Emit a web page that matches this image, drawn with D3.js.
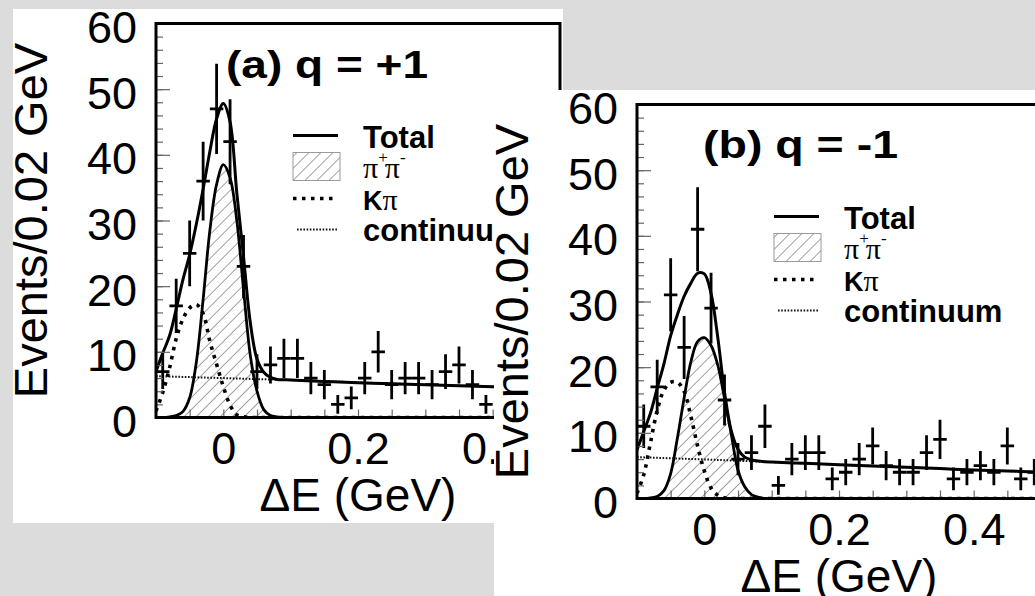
<!DOCTYPE html>
<html>
<head>
<meta charset="utf-8">
<script src="https://cdn.jsdelivr.net/npm/d3@7"></script>
<style>
  html, body { margin: 0; padding: 0; background: #dcdcdc; }
  svg { display: block; }
  text { font-family: "Liberation Sans", Arial, Helvetica, sans-serif; fill: #000; }
  .serif { font-family: "Liberation Serif", "DejaVu Serif", serif; font-weight: normal; }
</style>
</head>
<body>
<svg id="chart" width="1035" height="596"></svg>
<script>
// Bin centres (0.02 GeV bins) and event counts
const binsA = [-0.09, -0.07, -0.05, -0.03, -0.01, 0.01, 0.03, 0.05, 0.07, 0.09, 0.11, 0.13, 0.15,
  0.17, 0.19, 0.21, 0.23, 0.25, 0.27, 0.29, 0.31, 0.33, 0.35, 0.37, 0.39];
const eventsA = [7, 17, 25, 36, 47, 42, 23, 7, 8, 9, 9, 6, 5, 2, 3, 6, 10, 5, 6, 6, 5, 7, 8, 5, 2];

const binsB = [-0.09, -0.07, -0.05, -0.03, -0.01, 0.01, 0.03, 0.05, 0.07, 0.09, 0.11, 0.13, 0.15,
  0.17, 0.19, 0.21, 0.23, 0.25, 0.27, 0.29, 0.31, 0.33, 0.35, 0.37, 0.39, 0.41, 0.43, 0.45, 0.47, 0.49];
const eventsB = [11, 17, 31, 23, 41, 29, 15, 6, 7, 11, 2, 6, 7, 7, 3, 4, 6, 8, 5, 4, 4, 7, 9, 3, 4,
  5, 4, 8, 3, 4];

// Fit curves at these ΔE values
const curveX = [-0.1, -0.09, -0.08, -0.07, -0.06, -0.05, -0.04, -0.03, -0.02, -0.01, 0, 0.01, 0.02,
  0.03, 0.04, 0.05, 0.06, 0.07, 0.08, 0.09, 0.1, 0.15, 0.2, 0.25, 0.3, 0.35, 0.4, 0.45, 0.5];

const totalA = [7.0, 9.8, 12.4, 16.5, 21.0, 24.8, 29.5, 34.8, 40.5, 45.5, 47.8, 45.0, 34.2, 24.5,
  14.5, 8.9, 6.9, 6.1, 5.8, 5.75, 5.7, 5.5, 5.3, 5.15, 5.0, 4.85, 4.7, 4.55, 4.4];
const pipiA = [0, 0, 0.1, 0.3, 0.9, 3.0, 8.5, 18.0, 28.5, 35.5, 38.5, 36.5, 30.0, 19.5, 9.5, 4.0,
  1.2, 0.3, 0.1, 0, 0, 0, 0, 0, 0, 0, 0, 0, 0];
const kpiA = [1.0, 3.8, 7.5, 12.0, 15.0, 16.7, 17.2, 15.8, 11.6, 8.1, 4.7, 1.9, 0.4, 0.1, 0, 0, 0,
  0, 0, 0, 0, 0, 0, 0, 0, 0, 0, 0, 0];

const totalB = [7.4, 10.2, 13.0, 16.8, 20.5, 24.8, 28.0, 30.8, 32.8, 34.3, 34.2, 31.2, 24.5, 16.2,
  10.3, 7.5, 6.3, 5.9, 5.7, 5.6, 5.55, 5.35, 5.15, 4.95, 4.75, 4.55, 4.35, 4.2, 4.0];
const pipiB = [0, 0, 0.1, 0.3, 1.2, 3.8, 9.2, 15.3, 20.8, 23.9, 24.5, 23.3, 20.3, 15.2, 9.8, 4.3,
  1.8, 0.6, 0.2, 0, 0, 0, 0, 0, 0, 0, 0, 0, 0];
const kpiB = [0.8, 3.6, 8.5, 13.4, 16.5, 17.7, 17.7, 16.3, 12.5, 8.0, 4.2, 1.6, 0.5, 0.1, 0, 0, 0,
  0, 0, 0, 0, 0, 0, 0, 0, 0, 0, 0, 0];

// Continuum (nearly straight line)
const contX = [-0.1, 0, 0.1, 0.2, 0.3, 0.4, 0.5];
const contA = [6.3, 6.0, 5.7, 5.35, 5.0, 4.7, 4.4];
const contB = [6.3, 5.95, 5.55, 5.15, 4.75, 4.35, 4.0];

// Axes
const yTicks = [0, 10, 20, 30, 40, 50, 60];
const xTicks = [0, 0.2, 0.4];
const xDomain = [-0.1, 0.5];
const yDomain = [0, 60];

// Page layout (pixels)
const layout = {
  panelWidth: 550, panelHeight: 514,
  marginLeft: 143, marginTop: 14.5,
  width: 404, height: 394,
};

const panels = [
  { id: 'a', title: '(a) q = +1', offset: [13, 9], titlePos: [70, 54, 202],
    bins: binsA, events: eventsA, total: totalA, pipi: pipiA, kpi: kpiA, cont: contA },
  { id: 'b', title: '(b) q = -1', offset: [494, 90], titlePos: [66, 53, 195],
    bins: binsB, events: eventsB, total: totalB, pipi: pipiB, kpi: kpiB, cont: contB },
];

const svg = d3.select('#chart');
const defs = svg.append('defs');

// Hatch pattern for π+π-
const hatch = defs.append('pattern')
  .attr('id', 'hatch')
  .attr('patternUnits', 'userSpaceOnUse')
  .attr('width', 8.5)
  .attr('height', 8.5)
  .attr('patternTransform', 'rotate(45)');
hatch.append('line')
  .attr('x1', 0).attr('y1', 0).attr('x2', 0).attr('y2', 8.5)
  .attr('stroke', '#555').attr('stroke-width', 1.1);

const x = d3.scaleLinear().domain(xDomain).range([0, layout.width]);
const y = d3.scaleLinear().domain(yDomain).range([layout.height, 0]);

const styles = {
  total: { stroke: '#000', 'stroke-width': 3 },
  pipi: { stroke: '#000', 'stroke-width': 2.8 },
  kpi: { stroke: '#000', 'stroke-width': 3.6, 'stroke-dasharray': '3.5,5.5' },
  cont: { stroke: '#111', 'stroke-width': 2, 'stroke-dasharray': '1.6,1.6' },
};

function applyStyle(sel, st) {
  Object.keys(st).forEach(function(k) { sel.attr(k, st[k]); });
  return sel.attr('fill', 'none');
}

function drawPanel(p) {
  const root = svg.append('g')
    .attr('transform', `translate(${p.offset[0]},${p.offset[1]})`);

  root.append('rect')
    .attr('width', layout.panelWidth)
    .attr('height', layout.panelHeight)
    .attr('fill', '#fff');

  const g = root.append('g')
    .attr('transform', `translate(${layout.marginLeft},${layout.marginTop})`);

  defs.append('clipPath').attr('id', 'clip-' + p.id)
    .append('rect').attr('width', layout.width).attr('height', layout.height);

  const plot = g.append('g').attr('clip-path', `url(#clip-${p.id})`);

  // π+π- hatched area with outline
  const pts = curveX.map(function(d, i) { return [d, p.pipi[i]]; });
  const curve = d3.curveCatmullRom.alpha(0.5);
  plot.append('path')
    .datum(pts)
    .attr('fill', 'url(#hatch)')
    .attr('d', d3.area().x(function(d) { return x(d[0]); })
      .y0(y(0)).y1(function(d) { return y(d[1]); }).curve(curve));

  const line = d3.line()
    .x(function(d) { return x(d[0]); })
    .y(function(d) { return y(d[1]); })
    .curve(curve);

  applyStyle(plot.append('path').datum(pts).attr('d', line), styles.pipi);

  applyStyle(plot.append('path')
    .datum(curveX.map(function(d, i) { return [d, p.kpi[i]]; }))
    .attr('d', line), styles.kpi);

  applyStyle(plot.append('path')
    .datum(contX.map(function(d, i) { return [d, p.cont[i]]; }))
    .attr('d', d3.line().x(function(d) { return x(d[0]); }).y(function(d) { return y(d[1]); })),
  styles.cont);

  applyStyle(plot.append('path')
    .datum(curveX.map(function(d, i) { return [d, p.total[i]]; }))
    .attr('d', line), styles.total);

  // Data points with Poisson error bars
  const pts2 = p.bins.map(function(c, i) { return { c: c, n: p.events[i] }; });
  const marks = plot.append('g').attr('stroke', '#000').attr('stroke-width', 2.8);
  marks.selectAll('line.h').data(pts2).enter().append('line')
    .attr('class', 'h')
    .attr('x1', function(d) { return x(d.c - 0.01); })
    .attr('x2', function(d) { return x(d.c + 0.01); })
    .attr('y1', function(d) { return y(d.n); })
    .attr('y2', function(d) { return y(d.n); });
  marks.selectAll('line.v').data(pts2).enter().append('line')
    .attr('class', 'v')
    .attr('x1', function(d) { return x(d.c); })
    .attr('x2', function(d) { return x(d.c); })
    .attr('y1', function(d) { return y(d.n - Math.sqrt(d.n)); })
    .attr('y2', function(d) { return y(d.n + Math.sqrt(d.n)); });

  // Axes: inward ticks
  const yMinor = g.append('g').call(d3.axisLeft(y).tickValues(d3.range(0, 61, 2))
    .tickSize(-7).tickFormat(''));
  const yMajor = g.append('g').call(d3.axisLeft(y).tickValues(yTicks)
    .tickSize(-14).tickPadding(19));
  const xMinor = g.append('g').attr('transform', `translate(0,${layout.height})`)
    .call(d3.axisBottom(x).tickValues(d3.range(-0.05, 0.5, 0.05)).tickSize(-8).tickFormat(''));
  const xMajor = g.append('g').attr('transform', `translate(0,${layout.height})`)
    .call(d3.axisBottom(x).tickValues(xTicks).tickSize(0).tickPadding(15)
      .tickFormat(d3.format('')));

  [yMinor, yMajor, xMinor, xMajor].forEach(function(a) {
    a.select('.domain').remove();
    a.selectAll('.tick line').attr('stroke', '#666').attr('stroke-width', 1.2);
    a.selectAll('.tick text')
      .attr('font-size', 45)
      .attr('font-family', '"Liberation Sans", Arial, sans-serif')
      .attr('fill', '#000');
  });
  yMajor.selectAll('.tick text').attr('dy', '0.42em');

  // Frame
  g.append('rect')
    .attr('width', layout.width)
    .attr('height', layout.height)
    .attr('fill', 'none')
    .attr('stroke', '#000')
    .attr('stroke-width', 3);

  // Axis titles
  g.append('text')
    .attr('transform', `translate(-109,${layout.height / 2}) rotate(-90)`)
    .attr('text-anchor', 'middle')
    .attr('font-size', 47)
    .text('Events/0.02 GeV');
  g.append('text')
    .attr('x', layout.width / 2)
    .attr('y', layout.height + 93)
    .attr('text-anchor', 'middle')
    .attr('font-size', 46)
    .text('\u0394E (GeV)');

  // Panel title
  g.append('text')
    .attr('x', p.titlePos[0])
    .attr('y', p.titlePos[1])
    .attr('font-size', 39)
    .attr('font-weight', 'bold')
    .attr('textLength', p.titlePos[2])
    .attr('lengthAdjust', 'spacingAndGlyphs')
    .text(p.title);

  // Legend
  const lg = g.append('g').attr('transform', 'translate(137,0)');
  applyStyle(lg.append('line').attr('x1', 0).attr('x2', 45).attr('y1', 112).attr('y2', 112),
    styles.total);
  lg.append('text').attr('x', 70).attr('y', 124).attr('font-size', 31)
    .attr('font-weight', 'bold').text('Total');

  lg.append('rect').attr('x', 0).attr('y', 129).attr('width', 47).attr('height', 28)
    .attr('fill', 'url(#hatch)').attr('stroke', '#999').attr('stroke-width', 1);
  const pp = lg.append('text').attr('x', 70).attr('y', 154).attr('class', 'serif')
    .attr('font-size', 30);
  pp.append('tspan').text('\u03c0');
  pp.append('tspan').attr('dy', -15).attr('font-size', 17).text('+');
  pp.append('tspan').attr('dy', 15).attr('dx', -3).text('\u03c0');
  pp.append('tspan').attr('dy', -15).attr('font-size', 17).text('-');

  applyStyle(lg.append('line').attr('x1', 0).attr('x2', 45).attr('y1', 175).attr('y2', 175),
    styles.kpi);
  const kp = lg.append('text').attr('x', 70).attr('y', 186);
  kp.append('tspan').attr('font-size', 27).attr('font-weight', 'bold').text('K');
  kp.append('tspan').attr('class', 'serif').attr('font-size', 30).text('\u03c0');

  applyStyle(lg.append('line').attr('x1', 4).attr('x2', 45).attr('y1', 206).attr('y2', 206),
    styles.cont);
  lg.append('text').attr('x', 70).attr('y', 217).attr('font-size', 31)
    .attr('font-weight', 'bold').text('continuum');
}

panels.forEach(drawPanel);
</script>
</body>
</html>
